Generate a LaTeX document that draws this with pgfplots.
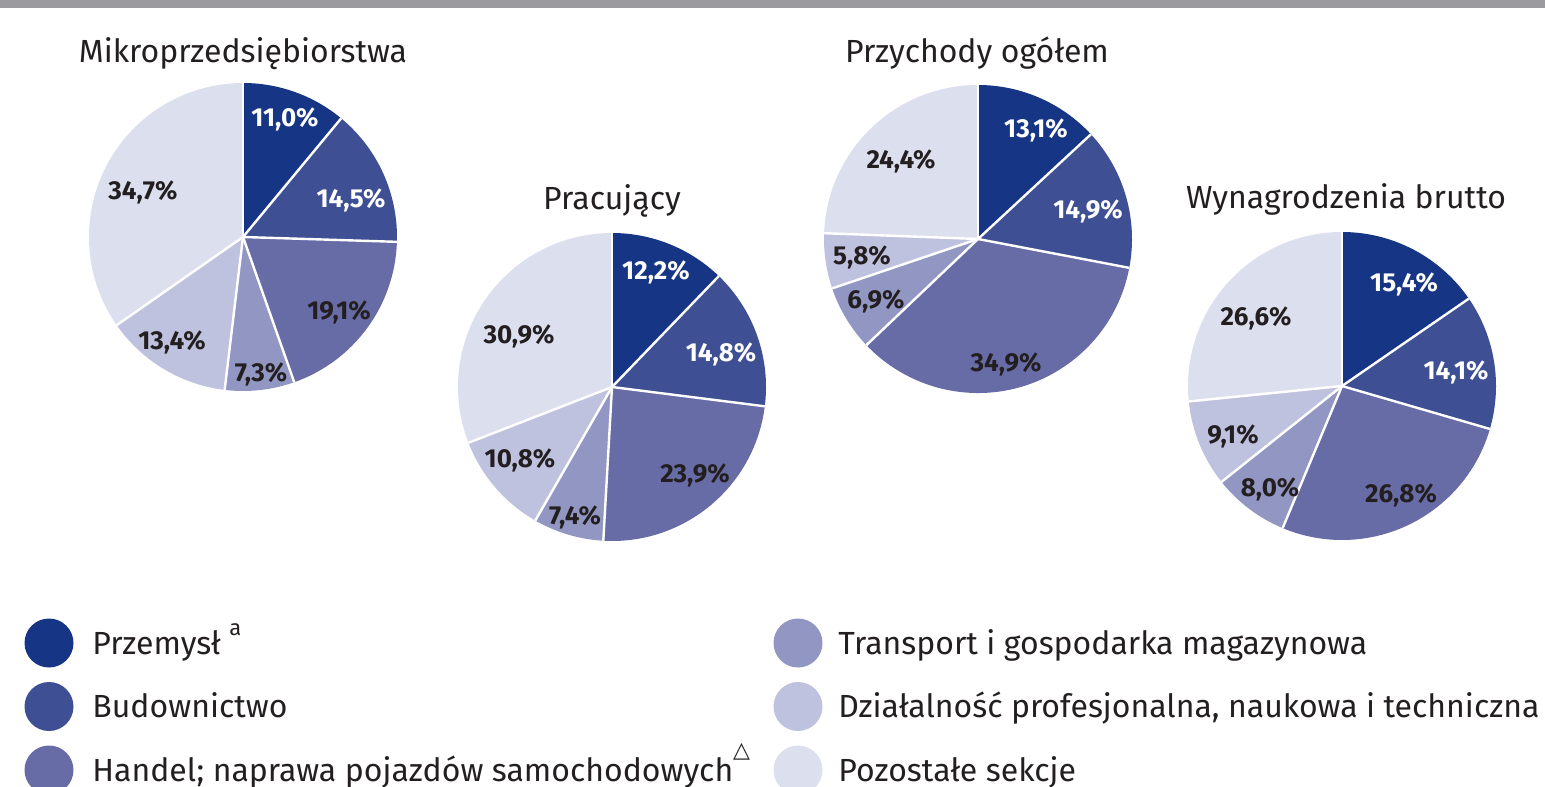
\documentclass[border=0pt]{standalone}
\usepackage{pgfplots}
\pgfplotsset{compat=1.18}
\usepackage{pgfplotstable}
\usepackage{fontspec}
\setmainfont{Fira Sans}
\newfontfamily\dejavu{DejaVu Sans}
\definecolor{c0}{HTML}{173585}
\definecolor{c1}{HTML}{3F4F93}
\definecolor{c2}{HTML}{676CA6}
\definecolor{c3}{HTML}{9196C2}
\definecolor{c4}{HTML}{BFC2DE}
\definecolor{c5}{HTML}{DCDFEE}
\definecolor{txt}{HTML}{231F20}
\definecolor{topbar}{HTML}{9B9B9F}

% share (%), label centre x, label centre y (picture pixels)
\pgfplotstableread{
val lx ly
11.0 285 117
14.5 351 198
19.1 339 310
7.3 261 372
13.4 172 340
34.7 143 190
}\pieA
\pgfplotstableread{
val lx ly
12.2 656 270
14.8 721 352
23.9 695 473
7.4 575 515
10.8 520 458
30.9 519 334
}\pieB
\pgfplotstableread{
val lx ly
13.1 1036 128
14.9 1088 209
34.9 1006 362
6.9 876 299
5.8 862 255
24.4 901 159
}\pieC
\pgfplotstableread{
val lx ly
15.4 1404 282
14.1 1456 370
26.8 1401 493
8.0 1270 487
9.1 1233 434
26.6 1256 316
}\pieD

\def\R{77pt}
\newcommand\labfont{\fontsize{13}{13}\selectfont\bfseries}
\newcommand\titfont{\fontsize{16}{16}\selectfont}
\newcommand\legfont{\fontsize{16}{16}\selectfont}

\newcommand\drawpie[3]{%
  \def\cum{0}%
  \pgfplotsforeachungrouped \i in {0,...,5}{%
    \pgfplotstablegetelem{\i}{val}\of{#1}\let\v\pgfplotsretval
    \pgfmathsetmacro\a{90-3.6*\cum}%
    \pgfmathsetmacro\b{90-3.6*(\cum+\v)}%
    \edef\tmp{\noexpand\fill[c\i] (axis cs:#2,#3) -- ++(\a:\R) arc[start angle=\a,end angle=\b,radius=\R] -- cycle;}%
    \tmp
    \pgfmathsetmacro\cum{\cum+\v}%
  }%
  \def\cum{0}%
  \pgfplotsforeachungrouped \i in {0,...,5}{%
    \pgfplotstablegetelem{\i}{val}\of{#1}\let\v\pgfplotsretval
    \pgfplotstablegetelem{\i}{lx}\of{#1}\let\lx\pgfplotsretval
    \pgfplotstablegetelem{\i}{ly}\of{#1}\let\ly\pgfplotsretval
    \pgfmathsetmacro\a{90-3.6*\cum}%
    \ifnum\i<2 \def\tc{white}\else\def\tc{txt}\fi
    \edef\tmp{\noexpand\draw[white, line width=1.2pt] (axis cs:#2,#3) -- ++(\a:\R);%
      \noexpand\node[text=\tc, font=\noexpand\labfont, inner sep=0pt, text depth=0pt] at (axis cs:\lx,\ly) {\noexpand\pgfmathprintnumber[assume math mode=true,use comma,fixed,fixed zerofill,precision=1]{\v}\noexpand\%};}%
    \tmp
    \pgfmathsetmacro\cum{\cum+\v}%
  }%
}

\begin{document}
\begin{tikzpicture}
\begin{axis}[width=772.5pt, height=393pt, scale only axis,
  xmin=0, xmax=1545, ymin=0, ymax=786, y dir=reverse,
  hide axis, clip=false]
\fill[topbar] (axis cs:0,0) rectangle (axis cs:1545,8);
\drawpie{\pieA}{243}{237}
\drawpie{\pieB}{612}{387}
\drawpie{\pieC}{978}{239}
\drawpie{\pieD}{1342}{386}
\node[anchor=base, font=\titfont, text=txt, inner sep=0pt] at (axis cs:243,63) {Mikroprzedsiębiorstwa};
\node[anchor=base, font=\titfont, text=txt, inner sep=0pt] at (axis cs:612,210) {Pracujący};
\node[anchor=base, font=\titfont, text=txt, inner sep=0pt] at (axis cs:977,63) {Przychody ogółem};
\node[anchor=base, font=\titfont, text=txt, inner sep=0pt] at (axis cs:1346,208) {Wynagrodzenia brutto};
% legend
\node[circle, fill=c0, minimum size=24.5pt, inner sep=0pt] at (axis cs:49,643) {};
\node[circle, fill=c1, minimum size=24.5pt, inner sep=0pt] at (axis cs:49,706.5) {};
\node[circle, fill=c2, minimum size=24.5pt, inner sep=0pt] at (axis cs:49,770) {};
\node[circle, fill=c3, minimum size=24.5pt, inner sep=0pt] at (axis cs:798,643) {};
\node[circle, fill=c4, minimum size=24.5pt, inner sep=0pt] at (axis cs:798,706.5) {};
\node[circle, fill=c5, minimum size=24.5pt, inner sep=0pt] at (axis cs:798,770) {};
\node[anchor=base west, font=\legfont, text=txt, inner sep=0pt] at (axis cs:92,654) {Przemysł \raisebox{9.5pt}{\fontsize{11}{11}\selectfont a}};
\node[anchor=base west, font=\legfont, text=txt, inner sep=0pt] at (axis cs:92,717.5) {Budownictwo};
\node[anchor=base west, font=\legfont, text=txt, inner sep=0pt] at (axis cs:92,781) {Handel; naprawa pojazdów samochodowych\raisebox{12pt}{\dejavu\fontsize{11}{11}\selectfont △}};
\node[anchor=base west, font=\legfont, text=txt, inner sep=0pt] at (axis cs:838,654) {Transport i gospodarka magazynowa};
\node[anchor=base west, font=\legfont, text=txt, inner sep=0pt] at (axis cs:838,717.5) {Działalność profesjonalna, naukowa i techniczna};
\node[anchor=base west, font=\legfont, text=txt, inner sep=0pt] at (axis cs:838,781) {Pozostałe sekcje};
\end{axis}
\pgfresetboundingbox
\useasboundingbox (current axis.south west) rectangle (current axis.north east);
\end{tikzpicture}
\end{document}
